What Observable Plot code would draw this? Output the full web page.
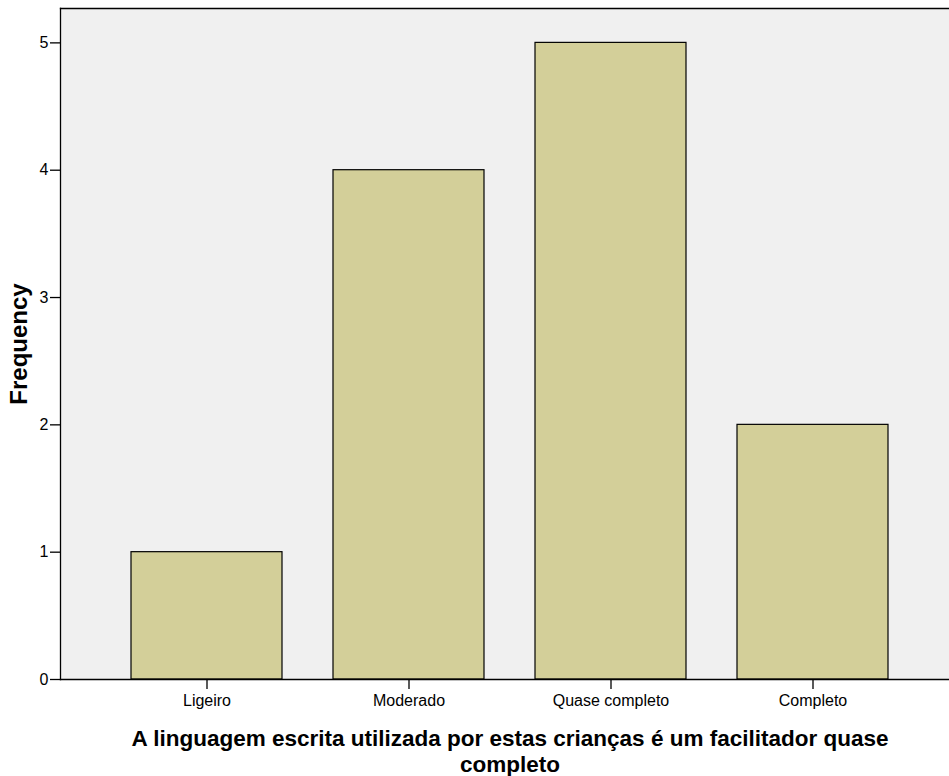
<!DOCTYPE html>
<html>
<head>
<meta charset="utf-8">
<script src="https://cdn.jsdelivr.net/npm/d3@7"></script>
<script src="https://cdn.jsdelivr.net/npm/@observablehq/plot@0.6"></script>
<style>
  html, body { margin: 0; padding: 0; background: #fff; }
  svg { display: block; }
</style>
</head>
<body>
<div id="chart"></div>
<script>
const categories = ["Ligeiro", "Moderado", "Quase completo", "Completo"];
const frequencies = [1, 4, 5, 2];
const yTicks = [0, 1, 2, 3, 4, 5];
const xLabel = "A linguagem escrita utilizada por estas crianças é um facilitador quase\ncompleto";
const yLabel = "Frequency";

const data = categories.map((c, i) => ({category: c, frequency: frequencies[i]}));

const chart = Plot.plot({
  width: 949,
  height: 776,
  marginLeft: 60,
  marginRight: 0,
  marginTop: 8,
  marginBottom: 97,
  style: {fontFamily: "'Liberation Sans', Arial, sans-serif", fontSize: "16px", color: "#000", background: "#fff"},
  x: {domain: categories, range: [130, 889], paddingInner: 0.254, paddingOuter: 0},
  y: {domain: [0, 5.27]},
  marks: [
    Plot.frame({fill: "#f0f0f0", stroke: null}),
    Plot.barY(data, {x: "category", y: "frequency", fill: "#d3cf99", stroke: "#000", strokeWidth: 1.2}),
    Plot.frame({anchor: "top", stroke: "#000", strokeWidth: 1.3}),
    Plot.frame({anchor: "left", stroke: "#000", strokeWidth: 1.3}),
    Plot.frame({anchor: "bottom", stroke: "#000", strokeWidth: 1.3}),
    Plot.axisY({ticks: yTicks, tickFormat: "d", tickSize: 10, tickPadding: 2, label: null, fontSize: 16, strokeWidth: 1.3}),
    Plot.axisX({tickSize: 10, tickPadding: 5, label: null, fontSize: 16, strokeWidth: 1.3}),
    Plot.text([xLabel], {frameAnchor: "bottom", dy: 48, dx: 5, fontSize: 22.5, fontWeight: "bold", lineHeight: 1.15, lineAnchor: "top"}),
    Plot.text([yLabel], {frameAnchor: "left", dx: -41, rotate: -90, textAnchor: "middle", fontSize: 24, fontWeight: "bold"})
  ]
});
document.getElementById("chart").appendChild(chart);
</script>
</body>
</html>
